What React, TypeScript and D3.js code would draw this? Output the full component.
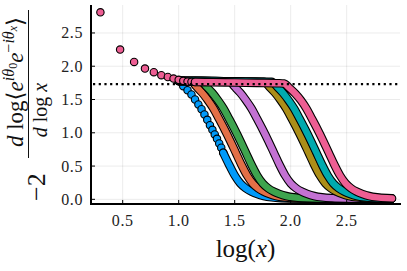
import React, { useEffect, useRef } from "react";
import * as d3 from "d3";

type Pt = [number, number];

// axis ticks and reference level
const xTicks = [0.5, 1.0, 1.5, 2.0, 2.5];
const yTicks = [0.0, 0.5, 1.0, 1.5, 2.0, 2.5];
const refLevel = 1.73;

// series, [log(x), value]
const blue: Pt[] = [
  [1.0, 1.775], [1.041, 1.7], [1.079, 1.64], [1.114, 1.575], [1.146, 1.5], [1.176, 1.425],
  [1.204, 1.355], [1.23, 1.275], [1.255, 1.195], [1.279, 1.115], [1.301, 1.045], [1.322, 0.975],
  [1.342, 0.91], [1.362, 0.84], [1.38, 0.775], [1.398, 0.7], [1.45, 0.52], [1.5, 0.36],
  [1.55, 0.24], [1.6, 0.165], [1.65, 0.115], [1.7, 0.08], [1.76, 0.05], [1.83, 0.03],
  [1.92, 0.018], [2.05, 0.012], [2.9, 0.008],
];
const orange: Pt[] = [
  [1.0, 1.78], [1.06, 1.775], [1.11, 1.775], [1.16, 1.69], [1.21, 1.6], [1.26, 1.49],
  [1.31, 1.365], [1.36, 1.21], [1.41, 1.05], [1.46, 0.88], [1.51, 0.7], [1.56, 0.52],
  [1.61, 0.36], [1.66, 0.24], [1.71, 0.165], [1.76, 0.115], [1.81, 0.08], [1.87, 0.05],
  [1.94, 0.03], [2.03, 0.018], [2.16, 0.012], [2.9, 0.008],
];
const green: Pt[] = [
  [1.0, 1.78], [1.1, 1.775], [1.2, 1.775], [1.25, 1.69], [1.3, 1.6], [1.35, 1.49],
  [1.4, 1.365], [1.45, 1.21], [1.5, 1.05], [1.55, 0.88], [1.6, 0.7], [1.65, 0.52],
  [1.7, 0.36], [1.75, 0.24], [1.8, 0.165], [1.85, 0.115], [1.9, 0.08], [1.96, 0.05],
  [2.03, 0.03], [2.12, 0.018], [2.25, 0.012], [2.9, 0.008],
];
const purple: Pt[] = [
  [1.0, 1.78], [1.15, 1.78], [1.3, 1.775], [1.45, 1.775], [1.5, 1.69], [1.55, 1.6],
  [1.6, 1.49], [1.65, 1.365], [1.7, 1.21], [1.75, 1.05], [1.8, 0.88], [1.85, 0.7],
  [1.9, 0.52], [1.95, 0.36], [2.0, 0.24], [2.05, 0.165], [2.1, 0.115], [2.15, 0.08],
  [2.21, 0.05], [2.28, 0.03], [2.37, 0.018], [2.5, 0.012], [2.9, 0.008],
];
const olive: Pt[] = [
  [1.0, 1.78], [1.2, 1.78], [1.4, 1.775], [1.6, 1.77], [1.76, 1.765], [1.81, 1.69],
  [1.86, 1.6], [1.91, 1.49], [1.96, 1.365], [2.01, 1.21], [2.06, 1.05], [2.11, 0.88],
  [2.16, 0.7], [2.21, 0.52], [2.26, 0.36], [2.31, 0.24], [2.36, 0.165], [2.41, 0.115],
  [2.46, 0.08], [2.52, 0.05], [2.59, 0.03], [2.68, 0.018], [2.81, 0.012], [2.9, 0.01],
];
const teal: Pt[] = [
  [1.0, 1.78], [1.2, 1.78], [1.4, 1.775], [1.6, 1.77], [1.83, 1.765], [1.88, 1.69],
  [1.93, 1.6], [1.98, 1.49], [2.03, 1.365], [2.08, 1.21], [2.13, 1.05], [2.18, 0.88],
  [2.23, 0.7], [2.28, 0.52], [2.33, 0.36], [2.38, 0.24], [2.43, 0.165], [2.48, 0.115],
  [2.53, 0.08], [2.59, 0.05], [2.66, 0.03], [2.75, 0.018], [2.9, 0.012],
];
const pink: Pt[] = [
  [0.301, 2.81], [0.477, 2.25], [0.602, 2.065], [0.699, 1.965], [0.778, 1.91], [0.845, 1.866],
  [0.903, 1.838], [0.954, 1.815], [1.0, 1.795], [1.041, 1.78], [1.079, 1.77], [1.114, 1.765],
  [1.146, 1.762], [1.3, 1.76], [1.5, 1.755], [1.7, 1.75], [1.9, 1.745], [1.94, 1.74],
  [1.99, 1.67], [2.04, 1.59], [2.09, 1.49], [2.14, 1.365], [2.19, 1.21], [2.24, 1.05],
  [2.29, 0.88], [2.34, 0.7], [2.39, 0.52], [2.44, 0.36], [2.49, 0.24], [2.54, 0.165],
  [2.59, 0.115], [2.64, 0.08], [2.7, 0.05], [2.77, 0.03], [2.86, 0.018], [2.905, 0.015],
];

// drawing order matters: later series sit on top
const seriesList = [
  { data: blue, color: "#009AFA", markers: 16 },
  { data: orange, color: "#E36F47", markers: 0 },
  { data: green, color: "#3EA44E", markers: 0 },
  { data: purple, color: "#C371D2", markers: 0 },
  { data: olive, color: "#AC8E18", markers: 0 },
  { data: teal, color: "#00AAAE", markers: 0 },
  { data: pink, color: "#ED5E93", markers: 13 },
];

const FONT = "'Liberation Serif', 'DejaVu Serif', serif";

const App: React.FC = () => {
  const svgRef = useRef<SVGSVGElement>(null);

  useEffect(() => {
    if (!svgRef.current) return;
    const svg = d3.select(svgRef.current);
    svg.selectAll("*").remove();

    const left = 91, right = 400, top = 5, bottom = 204;
    const x = d3.scaleLinear().domain([0.217, 2.976]).range([left, right]);
    const y = d3.scaleLinear().domain([-0.07, 2.92]).range([bottom, top]);

    svg.append("rect").attr("width", 407).attr("height", 271).attr("fill", "#fff");

    // grid
    const grid = svg.append("g").attr("stroke", "#000").attr("stroke-opacity", 0.1).attr("stroke-width", 0.8);
    xTicks.forEach(t => {
      grid.append("line").attr("x1", x(t)).attr("x2", x(t)).attr("y1", top).attr("y2", bottom);
    });
    yTicks.forEach(t => {
      grid.append("line").attr("x1", left).attr("x2", right).attr("y1", y(t)).attr("y2", y(t));
    });

    const line = d3.line<Pt>()
      .x(d => x(d[0]))
      .y(d => y(d[1]))
      .curve(d3.curveMonotoneX);

    const plot = svg.append("g");
    seriesList.forEach(s => {
      const g = plot.append("g");
      const dots = s.data.slice(0, s.markers);
      g.selectAll("circle")
        .data(dots)
        .enter().append("circle")
        .attr("cx", d => x(d[0]))
        .attr("cy", d => y(d[1]))
        .attr("r", 3.7)
        .attr("fill", s.color)
        .attr("stroke", "#000")
        .attr("stroke-width", 1.1);
      const band = s.markers > 0 ? s.data.slice(s.markers - 1) : s.data;
      g.append("path")
        .attr("d", line(band))
        .attr("fill", "none")
        .attr("stroke", "#000")
        .attr("stroke-width", 8.6)
        .attr("stroke-linecap", "round")
        .attr("stroke-linejoin", "round");
      g.append("path")
        .attr("d", line(band))
        .attr("fill", "none")
        .attr("stroke", s.color)
        .attr("stroke-width", 6.4)
        .attr("stroke-linecap", "round")
        .attr("stroke-linejoin", "round");
    });

    // dotted reference line
    svg.append("line")
      .attr("x1", left + 2).attr("x2", right)
      .attr("y1", y(refLevel)).attr("y2", y(refLevel))
      .attr("stroke", "#000")
      .attr("stroke-width", 2.2)
      .attr("stroke-dasharray", "2.2 3.5");

    // axes
    const axes = svg.append("g").attr("stroke", "#000");
    axes.append("line").attr("x1", left).attr("x2", left).attr("y1", top).attr("y2", bottom + 1).attr("stroke-width", 2);
    axes.append("line").attr("x1", left - 1).attr("x2", right + 1).attr("y1", bottom).attr("y2", bottom).attr("stroke-width", 2);
    xTicks.forEach(t => {
      axes.append("line").attr("x1", x(t)).attr("x2", x(t)).attr("y1", bottom).attr("y2", bottom - 4).attr("stroke-width", 1);
    });
    yTicks.forEach(t => {
      axes.append("line").attr("x1", left).attr("x2", left + 4).attr("y1", y(t)).attr("y2", y(t)).attr("stroke-width", 1);
    });

    // tick labels
    const labels = svg.append("g").attr("font-family", FONT).attr("font-size", 16).attr("fill", "#222");
    xTicks.forEach(t => {
      labels.append("text")
        .attr("x", x(t)).attr("y", 226)
        .attr("text-anchor", "middle")
        .attr("letter-spacing", 0.6)
        .text(d3.format(".1f")(t));
    });
    yTicks.forEach(t => {
      labels.append("text")
        .attr("x", 83).attr("y", y(t) + 5.5)
        .attr("text-anchor", "end")
        .attr("letter-spacing", 0.6)
        .text(d3.format(".1f")(t));
    });

    // x label
    const xl = svg.append("text")
      .attr("x", 245.5).attr("y", 257)
      .attr("text-anchor", "middle")
      .attr("font-family", FONT).attr("font-size", 25).attr("fill", "#111");
    xl.append("tspan").text("log(");
    xl.append("tspan").attr("font-style", "italic").text("x");
    xl.append("tspan").text(")");

    // y label, rotated
    const yl = svg.append("g").attr("transform", "rotate(-90)")
      .attr("font-family", FONT).attr("fill", "#111");
    yl.append("text")
      .attr("x", -201).attr("y", 45)
      .attr("font-size", 26)
      .text("−2");
    yl.append("line")
      .attr("x1", -158).attr("x2", -10)
      .attr("y1", 28.5).attr("y2", 28.5)
      .attr("stroke", "#111").attr("stroke-width", 1);
    const num = yl.append("text")
      .attr("x", -82).attr("y", 23)
      .attr("text-anchor", "middle")
      .attr("font-size", 23);
    num.append("tspan").attr("font-style", "italic").text("d");
    num.append("tspan").text(" log⟨");
    num.append("tspan").attr("font-style", "italic").text("e");
    num.append("tspan").attr("font-style", "italic").attr("font-size", 16).attr("dy", -9).text("iθ");
    num.append("tspan").attr("font-size", 12).attr("dy", 3).text("0");
    num.append("tspan").attr("font-style", "italic").attr("dy", 6).text("e");
    num.append("tspan").attr("font-size", 16).attr("dy", -9).text("−");
    num.append("tspan").attr("font-style", "italic").attr("font-size", 16).text("iθ");
    num.append("tspan").attr("font-style", "italic").attr("font-size", 12).attr("dy", 3).text("x");
    num.append("tspan").attr("dy", 6).text("⟩");
    const den = yl.append("text")
      .attr("x", -110).attr("y", 47)
      .attr("text-anchor", "middle")
      .attr("font-size", 20);
    den.append("tspan").attr("font-style", "italic").text("d");
    den.append("tspan").text(" log ");
    den.append("tspan").attr("font-style", "italic").text("x");
  }, []);

  return (
    <svg
      ref={svgRef}
      width={407}
      height={271}
      style={{ position: "absolute", left: 0, top: 0, display: "block" }}
    />
  );
};

export default App;
